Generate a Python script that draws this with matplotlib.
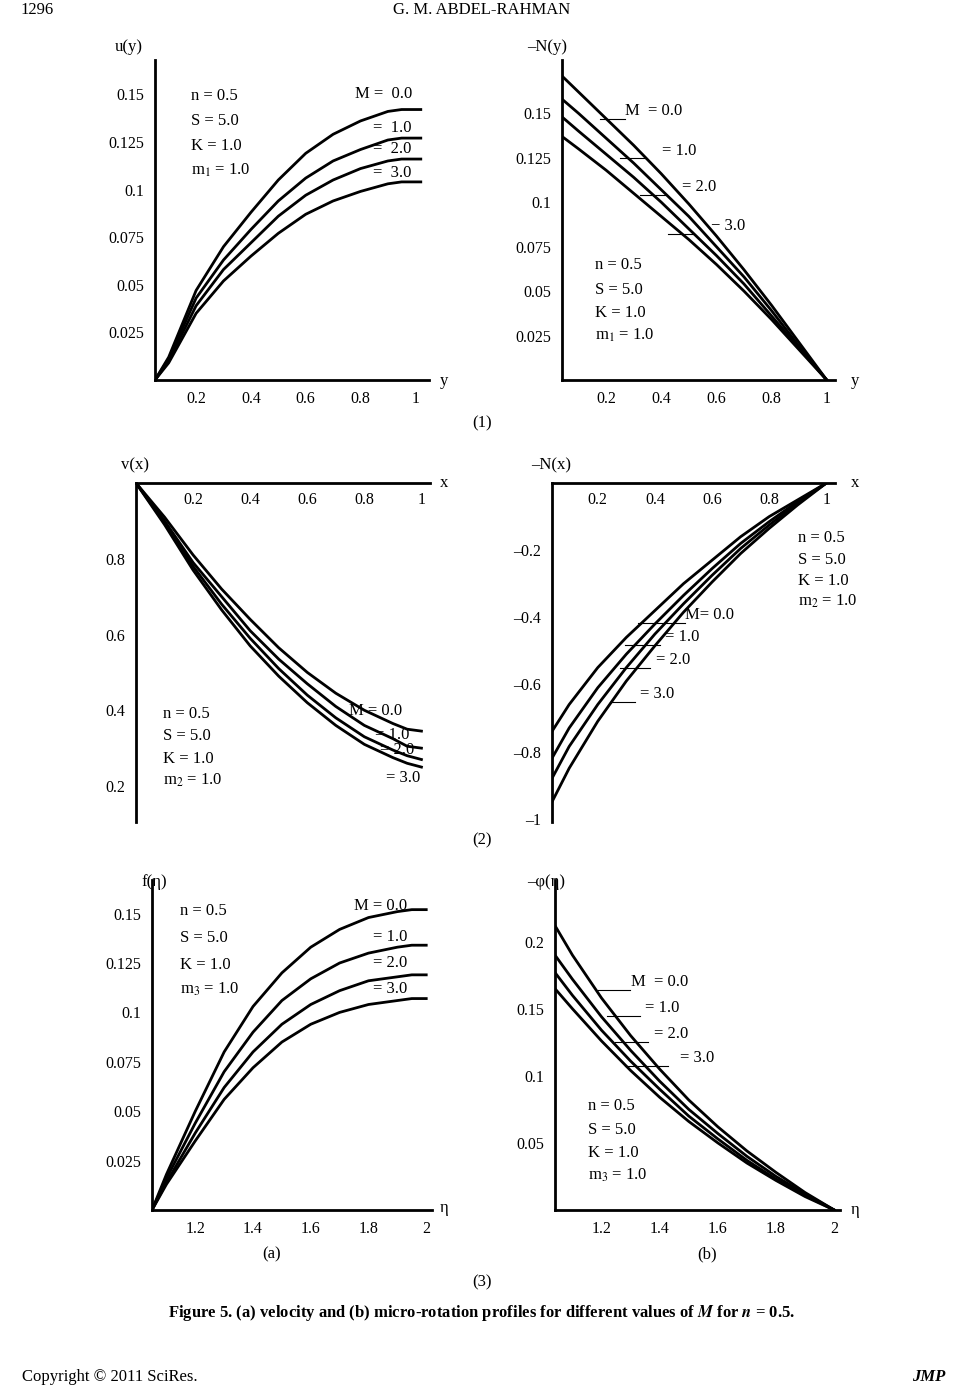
import matplotlib
matplotlib.use("Agg")
import matplotlib.pyplot as plt
from matplotlib.lines import Line2D

plt.rcParams['font.family'] = ['Liberation Serif', 'DejaVu Serif']
plt.rcParams['mathtext.fontset'] = 'stix'

W, H = 965, 1386
M_labels = ["0.0", "1.0", "2.0", "3.0"]

# (1a) u(y)
y1 = [0.05, 0.1, 0.2, 0.3, 0.4, 0.5, 0.6, 0.7, 0.8, 0.9, 0.95, 1.02]
u_curves = [
    [0, 0.012, 0.047, 0.070, 0.088, 0.105, 0.119, 0.129, 0.136, 0.141, 0.142, 0.142],
    [0, 0.011, 0.043, 0.063, 0.079, 0.094, 0.106, 0.115, 0.121, 0.126, 0.127, 0.127],
    [0, 0.010, 0.039, 0.058, 0.072, 0.086, 0.097, 0.105, 0.111, 0.115, 0.116, 0.116],
    [0, 0.009, 0.035, 0.052, 0.065, 0.077, 0.087, 0.094, 0.099, 0.103, 0.104, 0.104],
]
# (1b) -N(y)
y2 = [0.04, 0.1, 0.2, 0.3, 0.4, 0.5, 0.6, 0.7, 0.8, 0.9, 1.0]
Ny_curves = [
    [0.171, 0.162, 0.147, 0.132, 0.116, 0.099, 0.081, 0.062, 0.042, 0.021, 0],
    [0.158, 0.150, 0.136, 0.122, 0.107, 0.092, 0.075, 0.058, 0.039, 0.019, 0],
    [0.148, 0.140, 0.127, 0.114, 0.100, 0.085, 0.070, 0.054, 0.036, 0.018, 0],
    [0.137, 0.130, 0.118, 0.105, 0.092, 0.079, 0.065, 0.050, 0.034, 0.017, 0],
]
# (2a) v(x)
x1 = [0, 0.1, 0.2, 0.3, 0.4, 0.5, 0.6, 0.7, 0.8, 0.9, 0.95, 1.0]
v_curves = [
    [1.0, 0.91, 0.81, 0.72, 0.64, 0.565, 0.50, 0.445, 0.40, 0.365, 0.35, 0.345],
    [1.0, 0.90, 0.79, 0.70, 0.61, 0.535, 0.47, 0.41, 0.36, 0.325, 0.305, 0.30],
    [1.0, 0.895, 0.78, 0.68, 0.59, 0.51, 0.44, 0.38, 0.33, 0.295, 0.28, 0.27],
    [1.0, 0.89, 0.77, 0.665, 0.57, 0.49, 0.42, 0.36, 0.31, 0.275, 0.26, 0.25],
]
# (2b) -N(x)
x2 = [0.04, 0.1, 0.2, 0.3, 0.4, 0.5, 0.6, 0.7, 0.8, 0.9, 1.0]
Nx_curves = [
    [-0.74, -0.66, -0.55, -0.46, -0.38, -0.30, -0.23, -0.16, -0.10, -0.05, 0],
    [-0.82, -0.73, -0.61, -0.51, -0.42, -0.335, -0.255, -0.18, -0.115, -0.055, 0],
    [-0.88, -0.785, -0.66, -0.55, -0.45, -0.36, -0.275, -0.195, -0.125, -0.06, 0],
    [-0.95, -0.85, -0.71, -0.59, -0.485, -0.385, -0.295, -0.21, -0.135, -0.065, 0],
]
# (3a) f(eta)
e1 = [1.05, 1.1, 1.2, 1.3, 1.4, 1.5, 1.6, 1.7, 1.8, 1.9, 1.95, 2.0]
f_curves = [
    [0, 0.018, 0.050, 0.080, 0.103, 0.120, 0.133, 0.142, 0.148, 0.151, 0.152, 0.152],
    [0, 0.016, 0.044, 0.070, 0.090, 0.106, 0.117, 0.125, 0.130, 0.133, 0.134, 0.134],
    [0, 0.014, 0.039, 0.062, 0.080, 0.094, 0.104, 0.111, 0.116, 0.118, 0.119, 0.119],
    [0, 0.013, 0.035, 0.056, 0.072, 0.085, 0.094, 0.100, 0.104, 0.106, 0.107, 0.107],
]
# (3b) -phi(eta)
e2 = [1.04, 1.1, 1.2, 1.3, 1.4, 1.5, 1.6, 1.7, 1.8, 1.9, 2.0]
phi_curves = [
    [0.212, 0.190, 0.158, 0.130, 0.105, 0.082, 0.062, 0.044, 0.028, 0.013, 0],
    [0.190, 0.172, 0.144, 0.119, 0.096, 0.075, 0.057, 0.040, 0.025, 0.012, 0],
    [0.177, 0.160, 0.134, 0.111, 0.090, 0.070, 0.053, 0.037, 0.023, 0.011, 0],
    [0.165, 0.150, 0.126, 0.104, 0.084, 0.066, 0.050, 0.035, 0.022, 0.010, 0],
]

fig = plt.figure(figsize=(W / 100, H / 100), dpi=100)


def fx(px):
    return px / W


def fy(py):
    return 1 - py / H


def panel(l, t, r, b, xs, curves, xlim, ylim, xticks, yticks, top=False):
    ax = fig.add_axes([fx(l), fy(b), (r - l) / W, (b - t) / H])
    for c in curves:
        ax.plot(xs, c, color='black', lw=2)
    ax.set_xlim(*xlim)
    ax.set_ylim(*ylim)
    ax.set_xticks(xticks)
    ax.set_xticklabels([f"{v:g}" for v in xticks])
    ax.set_yticks(yticks)
    ax.set_yticklabels([f"{v:g}".replace("-", "\u2013") for v in yticks])
    for s in ax.spines.values():
        s.set_visible(False)
    ax.spines['left'].set_visible(True)
    ax.spines['left'].set_linewidth(2)
    key = 'top' if top else 'bottom'
    ax.spines[key].set_visible(True)
    ax.spines[key].set_linewidth(2)
    if top:
        ax.xaxis.tick_top()
        ax.tick_params(axis='x', direction='in', pad=-16)
    ax.tick_params(length=0, labelsize=11.5, pad=8)
    if top:
        ax.tick_params(axis='x', pad=-18)
    return ax


panel(155, 60, 429, 380, y1, u_curves, (0.05, 1.05), (0, 0.168),
      [0.2, 0.4, 0.6, 0.8, 1], [0.025, 0.05, 0.075, 0.1, 0.125, 0.15])
panel(562, 60, 835, 380, y2, Ny_curves, (0.04, 1.03), (0, 0.18),
      [0.2, 0.4, 0.6, 0.8, 1], [0.025, 0.05, 0.075, 0.1, 0.125, 0.15])
panel(136, 483, 430, 822, x1, v_curves, (0, 1.03), (0.105, 1.0),
      [0.2, 0.4, 0.6, 0.8, 1], [0.2, 0.4, 0.6, 0.8], top=True)
panel(552, 483, 835, 822, x2, Nx_curves, (0.04, 1.03), (-1.01, 0),
      [0.2, 0.4, 0.6, 0.8, 1], [-1, -0.8, -0.6, -0.4, -0.2], top=True)
panel(152, 880, 432, 1210, e1, f_curves, (1.05, 2.02), (0, 0.167),
      [1.2, 1.4, 1.6, 1.8, 2], [0.025, 0.05, 0.075, 0.1, 0.125, 0.15])
panel(555, 880, 840, 1210, e2, phi_curves, (1.04, 2.02), (0, 0.246),
      [1.2, 1.4, 1.6, 1.8, 2], [0.05, 0.1, 0.15, 0.2])


def t(px, py, s, size=12, ha='left', **kw):
    fig.text(fx(px), fy(py), s, fontsize=size, ha=ha, va='center', **kw)


def lead(x0, x1_, py):
    fig.add_artist(Line2D([fx(x0), fx(x1_)], [fy(py), fy(py)], color='black', lw=0.8))


def params(px, ys, m):
    for s, py in zip(["n = 0.5", "S = 5.0", "K = 1.0", f"m$_{m}$ = 1.0"], ys):
        t(px, py, s)


# axis labels
for px, py, s in [(115, 47, "u(y)"), (440, 381, "y"), (527, 47, "\u2013N(y)"), (851, 381, "y"),
                  (121, 465, "v(x)"), (440, 483, "x"), (531, 465, "\u2013N(x)"), (851, 483, "x"),
                  (141, 882, "f(\u03b7)"), (440, 1208, "\u03b7"), (527, 882, "\u2013\u03c6(\u03b7)"),
                  (851, 1210, "\u03b7")]:
    t(px, py, s)

# panel 1a
params(191, [96, 121, 146, 170], 1)
for px, py, s in [(355, 94, "M =  0.0"), (373, 128, "=  1.0"), (373, 149, "=  2.0"), (373, 173, "=  3.0")]:
    t(px, py, s)
# panel 1b
for (px, py, s), (a, b_, ly) in zip(
        [(625, 111, "M  = 0.0"), (662, 151, "= 1.0"), (682, 187, "= 2.0"), (711, 226, "\u2212 3.0")],
        [(600, 625, 119), (620, 645, 158), (640, 665, 195), (668, 693, 234)]):
    t(px, py, s)
    lead(a, b_, ly)
params(595, [265, 290, 313, 335], 1)
# panel 2a
params(163, [714, 736, 759, 780], 2)
for px, py, s in [(349, 711, "M = 0.0"), (375, 735, "= 1.0"), (380, 750, "= 2.0"), (386, 778, "= 3.0")]:
    t(px, py, s)
# panel 2b
params(798, [538, 560, 581, 601], 2)
for (px, py, s), (a, b_, ly) in zip(
        [(685, 615, "M= 0.0"), (665, 637, "= 1.0"), (656, 660, "= 2.0"), (640, 694, "= 3.0")],
        [(638, 685, 623), (625, 660, 645), (620, 650, 668), (610, 635, 702)]):
    t(px, py, s)
    lead(a, b_, ly)
# panel 3a
params(180, [911, 938, 965, 989], 3)
for px, py, s in [(354, 906, "M = 0.0"), (373, 937, "= 1.0"), (373, 963, "= 2.0"), (373, 989, "= 3.0")]:
    t(px, py, s)
# panel 3b
for (px, py, s), (a, b_, ly) in zip(
        [(631, 982, "M  = 0.0"), (645, 1008, "= 1.0"), (654, 1034, "= 2.0"), (680, 1058, "= 3.0")],
        [(598, 630, 990), (607, 640, 1016), (615, 648, 1042), (625, 668, 1066)]):
    t(px, py, s)
    lead(a, b_, ly)
params(588, [1106, 1130, 1153, 1175], 3)

# page texts
t(20, 10, "1296", size=12)
t(482, 10, "G. M. ABDEL-RAHMAN", size=12, ha='center')
t(482, 423, "(1)", ha='center')
t(482, 840, "(2)", ha='center')
t(272, 1254, "(a)", ha='center')
t(707, 1254, "(b)", ha='center')
t(482, 1282, "(3)", ha='center')
fig.text(fx(482), fy(1313), "Figure 5. (a) velocity and (b) micro-rotation profiles for different values of $\\mathbfit{M}$ for $\\mathbfit{n}$ = 0.5.",
         fontsize=12, ha='center', va='center', fontweight='bold')
t(22, 1377, "Copyright \u00a9 2011 SciRes.", size=12)
t(945, 1377, "JMP", size=12, ha='right', fontweight='bold', fontstyle='italic')

fig.savefig("out.png", dpi=100)
